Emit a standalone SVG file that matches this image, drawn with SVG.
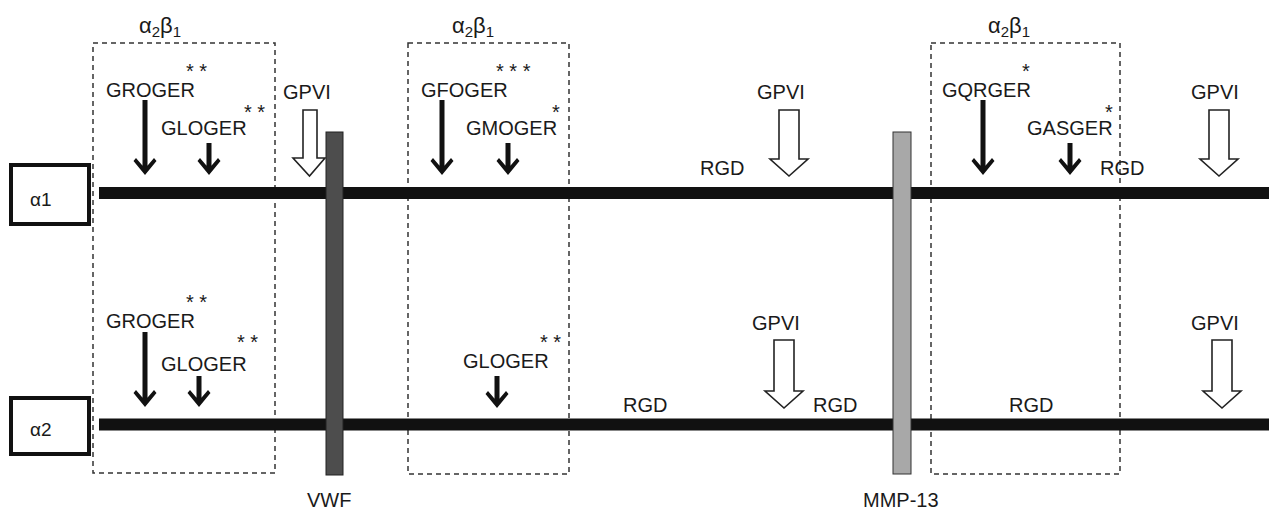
<svg xmlns="http://www.w3.org/2000/svg" width="1269" height="512" viewBox="0 0 1269 512">
<style>
text{font-family:"Liberation Sans",Arial,sans-serif;fill:#1a1a1a}
.t{font-size:20px}
.s{font-size:20px}
.g{font-size:22px}
.dash{fill:none;stroke:#333;stroke-width:1.5;stroke-dasharray:5 4}
.chain{stroke:#111;stroke-width:12}
.solid{fill:#111}
.hollow{fill:#fff;stroke:#222;stroke-width:1.6;stroke-linejoin:miter}
.box{fill:#fff;stroke:#111;stroke-width:4}
</style>
<defs>
<path id="sa" d="M0,0 L-11.5,-14 L-9,-17 L-2.6,-9.5 L2.6,-9.5 L9,-17 L11.5,-14 Z"/>
</defs>
<rect width="1269" height="512" fill="#fff"/>

<g id="regions">
<g id="region1"><rect class="dash" x="93" y="43" width="182" height="430"/>
<text class="g" x="139" y="33">α<tspan font-size="15" dy="4">2</tspan><tspan dy="-4">β</tspan><tspan font-size="15" dy="4">1</tspan></text></g>
<g id="region2"><rect class="dash" x="408" y="43" width="161" height="431"/>
<text class="g" x="452" y="33">α<tspan font-size="15" dy="4">2</tspan><tspan dy="-4">β</tspan><tspan font-size="15" dy="4">1</tspan></text></g>
<g id="region3"><rect class="dash" x="931" y="43" width="189" height="431"/>
<text class="g" x="988" y="33">α<tspan font-size="15" dy="4">2</tspan><tspan dy="-4">β</tspan><tspan font-size="15" dy="4">1</tspan></text></g>
</g>

<g id="connectors">
<line class="chain" x1="99" y1="193" x2="1269" y2="193"/>
<line class="chain" x1="99" y1="424.5" x2="1269" y2="424.5"/>
<g class="solid">
<rect x="142.5" y="100" width="5" height="67"/><use href="#sa" transform="translate(145,175)"/>
<rect x="206.5" y="143" width="5" height="24"/><use href="#sa" transform="translate(209,175)"/>
<rect x="439.5" y="100" width="5" height="67"/><use href="#sa" transform="translate(442,175)"/>
<rect x="505.5" y="143" width="5" height="24"/><use href="#sa" transform="translate(508,175)"/>
<rect x="980.5" y="100" width="5" height="67"/><use href="#sa" transform="translate(983,175)"/>
<rect x="1067.5" y="143" width="5" height="24"/><use href="#sa" transform="translate(1070,175)"/>
<rect x="142.5" y="332" width="5" height="67"/><use href="#sa" transform="translate(145,407)"/>
<rect x="196.5" y="376" width="5" height="23"/><use href="#sa" transform="translate(199,407)"/>
<rect x="494.5" y="376" width="5" height="24"/><use href="#sa" transform="translate(497,408)"/>
</g>
<path class="hollow" d="M303,110 H317 V158 H325 L309.5,176 L293,158 H303 Z"/>
<path class="hollow" d="M779,110 H799 V159 H808 L789,176 L770,159 H779 Z"/>
<path class="hollow" d="M1209,110 H1229 V159 H1238 L1219,176 L1200,159 H1209 Z"/>
<path class="hollow" d="M774,340 H794 V391 H803 L784,408 L765,391 H774 Z"/>
<path class="hollow" d="M1212,340 H1232 V391 H1241 L1222,408 L1203,391 H1212 Z"/>
</g>

<g id="alpha1"><rect class="box" x="11" y="165" width="78" height="59"/><text x="30" y="206" style="font-size:19px">α1</text></g>
<g id="alpha2"><rect class="box" x="11" y="398" width="78" height="56"/><text x="30" y="436" style="font-size:19px">α2</text></g>

<g id="vwf"><rect x="326" y="132" width="17" height="343" fill="#4d4d4d" stroke="#222" stroke-width="1"/><text class="t" x="307" y="507">VWF</text></g>
<g id="mmp13"><rect x="893" y="132" width="18" height="342" fill="#a8a8a8" stroke="#333" stroke-width="1"/><text class="t" x="863" y="507">MMP-13</text></g>

<g id="labels-top">
<text class="t" x="106" y="97">GROGER</text><text class="s" x="186" y="78">* *</text>
<text class="t" x="161" y="135">GLOGER</text><text class="s" x="244" y="119">* *</text>
<text class="t" x="283" y="99">GPVI</text>
<text class="t" x="421" y="97">GFOGER</text><text class="s" x="496" y="78">* * *</text>
<text class="t" x="466" y="135">GMOGER</text><text class="s" x="552" y="119">*</text>
<text class="t" x="700" y="175">RGD</text>
<text class="t" x="757" y="99">GPVI</text>
<text class="t" x="942" y="97">GQRGER</text><text class="s" x="1022" y="78">*</text>
<text class="t" x="1027" y="135">GASGER</text><text class="s" x="1105" y="119">*</text>
<text class="t" x="1100" y="175">RGD</text>
<text class="t" x="1191" y="99">GPVI</text>
</g>
<g id="labels-bottom">
<text class="t" x="106" y="328">GROGER</text><text class="s" x="186" y="309">* *</text>
<text class="t" x="161" y="371">GLOGER</text><text class="s" x="237" y="349">* *</text>
<text class="t" x="463" y="368">GLOGER</text><text class="s" x="540" y="349">* *</text>
<text class="t" x="623" y="412">RGD</text>
<text class="t" x="752" y="330">GPVI</text>
<text class="t" x="813" y="412">RGD</text>
<text class="t" x="1009" y="412">RGD</text>
<text class="t" x="1191" y="330">GPVI</text>
</g>
</svg>
